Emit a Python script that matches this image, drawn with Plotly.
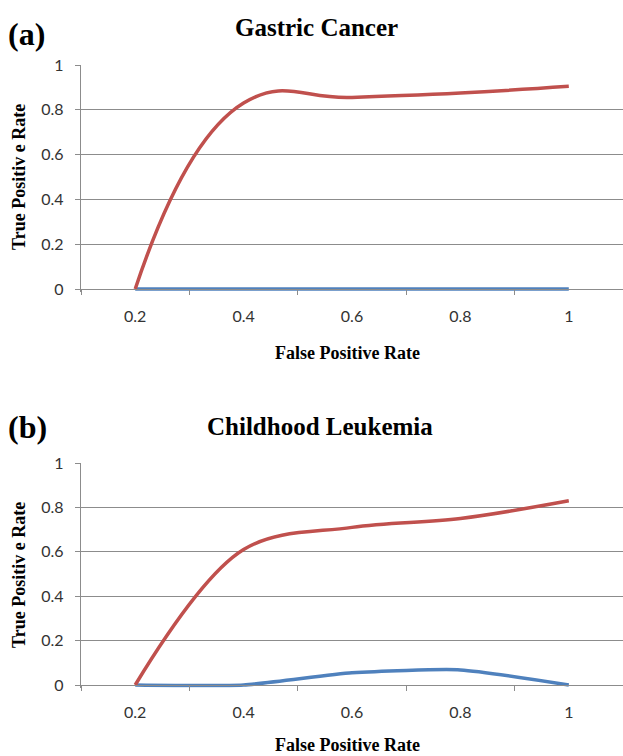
import plotly.graph_objects as go

# ---- data ----
categories = ["0.2", "0.4", "0.6", "0.8", "1"]
gastric_red = [0.0, 0.83, 0.855, 0.875, 0.905]
gastric_blue = [0.0, 0.0, 0.0, 0.0, 0.0]
leuk_red = [0.0, 0.61, 0.71, 0.75, 0.83]
leuk_blue = [0.0, 0.0, 0.055, 0.068, 0.0]
y_ticks = [0, 0.2, 0.4, 0.6, 0.8, 1]
y_tick_text = ["0", "0.2", "0.4", "0.6", "0.8", "1"]

W, H = 623, 756
RED = "#C0504D"
BLUE = "#4F81BD"
GRID = "#8C8C8C"
SERIF = "Liberation Serif"
SANS = "Lato"

def py(p):  # pixel y -> paper fraction
    return 1 - p / H

def px(p):
    return p / W

fig = go.Figure()

panels = [
    dict(x="x", y="y", red=gastric_red, blue=gastric_blue, top=65, zero=289, rs=1.3, bs=1.0),
    dict(x="x2", y="y2", red=leuk_red, blue=leuk_blue, top=463, zero=685, rs=1.0, bs=0.55),
]

ymin = -0.012
for p in panels:
    fig.add_trace(go.Scatter(x=categories, y=p["blue"], xaxis=p["x"], yaxis=p["y"],
                             mode="lines",
                             line=dict(color=BLUE, width=3.5, shape="spline", smoothing=p["bs"]),
                             showlegend=False, hoverinfo="skip"))
    fig.add_trace(go.Scatter(x=categories, y=p["red"], xaxis=p["x"], yaxis=p["y"],
                             mode="lines",
                             line=dict(color=RED, width=3.5, shape="spline", smoothing=p["rs"]),
                             showlegend=False, hoverinfo="skip"))

xl, xr = 81, 623
for i, p in enumerate(panels):
    sfx = "" if i == 0 else "2"
    span = p["zero"] - p["top"]
    bottom_px = p["zero"] - ymin * span
    ydom = [py(bottom_px), py(p["top"])]
    fig.update_layout(**{
        "xaxis" + sfx: dict(
            type="category", domain=[px(xl), px(xr)], range=[-0.5, 4.5],
            anchor="free", position=py(p["zero"]),
            tickson="boundaries", ticks="outside", ticklen=5, tickcolor=GRID, tickwidth=1,
            showline=True, linecolor=GRID, linewidth=1.3,
            showgrid=False, zeroline=False, ticklabelstandoff=13,
            tickfont=dict(family=SANS, size=16, color="#333333"),
            fixedrange=True, automargin=False,
        ),
        "yaxis" + sfx: dict(
            domain=ydom, range=[ymin, 1.0], anchor="x" + sfx,
            tickvals=y_ticks, ticktext=y_tick_text,
            ticks="outside", ticklen=5, tickcolor=GRID, tickwidth=1,
            showline=True, linecolor=GRID, linewidth=1.3,
            showgrid=True, gridcolor=GRID, gridwidth=1.3,
            zeroline=False, ticklabelstandoff=8,
            tickfont=dict(family=SANS, size=16, color="#333333"),
            fixedrange=True, automargin=False,
        ),
    })

ann = []
def text(t, x, y, size, xanchor="center", textangle=0):
    ann.append(dict(text=t, x=px(x), y=py(y), xref="paper", yref="paper",
                    xanchor=xanchor, yanchor="middle", showarrow=False, textangle=textangle,
                    font=dict(family=SERIF, size=size, color="black")))

text("<b>(a)</b>", 6, 34, 32, xanchor="left")
text("<b>Gastric Cancer</b>", 316, 28, 25)
text("<b>True Positiv e Rate</b>", 19, 177, 18, textangle=-90)
text("<b>False Positive Rate</b>", 348, 353, 18)

text("<b>(b)</b>", 6, 427, 32, xanchor="left")
text("<b>Childhood Leukemia</b>", 320, 427, 25)
text("<b>True Positiv e Rate</b>", 19, 575, 18, textangle=-90)
text("<b>False Positive Rate</b>", 348, 745, 18)

fig.update_layout(
    width=W, height=H,
    margin=dict(l=0, r=0, t=0, b=0),
    paper_bgcolor="white", plot_bgcolor="white",
    annotations=ann,
    showlegend=False,
)

fig.write_html("out.html", config={"displayModeBar": False},
               post_script="document.body.style.margin='0';document.body.style.overflow='hidden';")
